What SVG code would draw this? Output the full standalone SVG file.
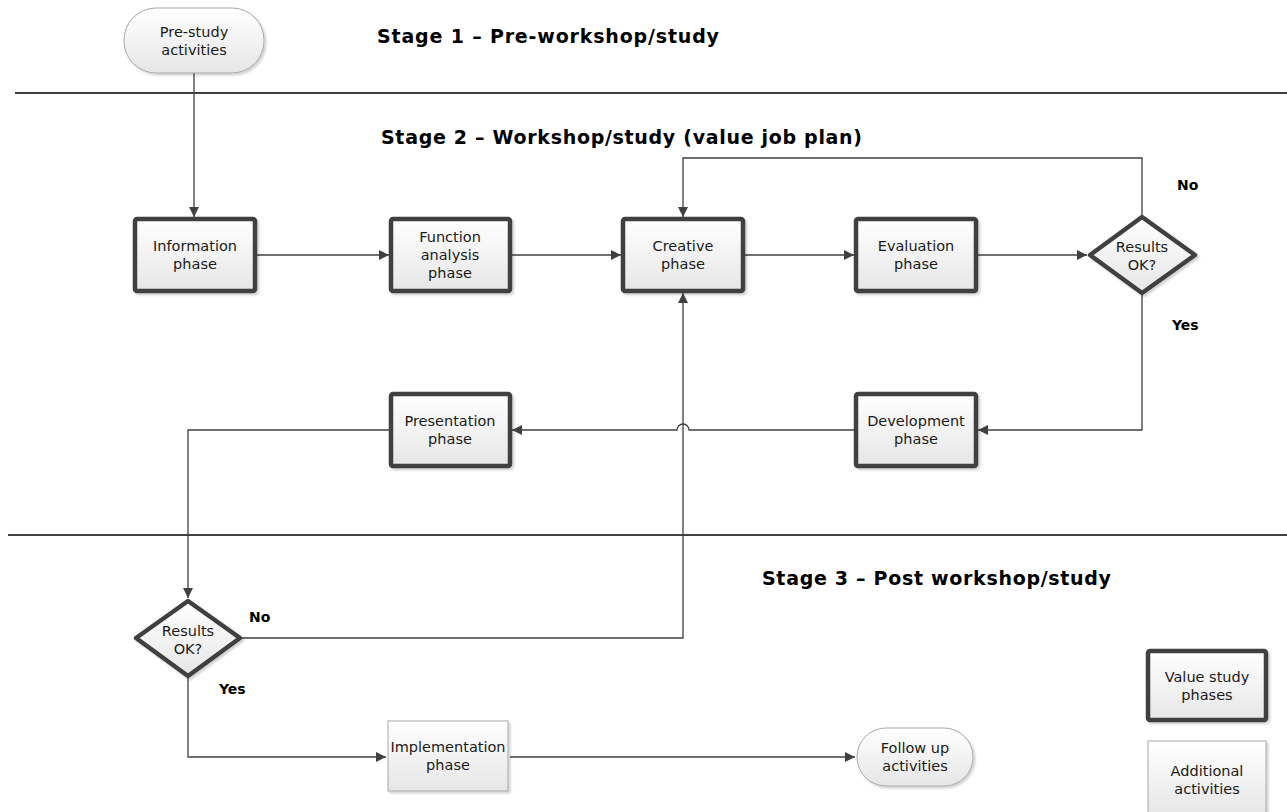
<svg xmlns="http://www.w3.org/2000/svg" width="1287" height="812" viewBox="0 0 1287 812">
  <defs>
    <linearGradient id="fill" x1="0" y1="0" x2="0" y2="1">
      <stop offset="0" stop-color="#ffffff"/>
      <stop offset="1" stop-color="#e6e6e6"/>
    </linearGradient>
    <filter id="shadow" x="-10%" y="-10%" width="130%" height="130%">
      <feDropShadow dx="2" dy="2" stdDeviation="1.2" flood-color="#000" flood-opacity="0.18"/>
    </filter>
    <marker id="arrow" viewBox="0 0 10 10" refX="10" refY="5" markerWidth="10" markerHeight="10" markerUnits="userSpaceOnUse" orient="auto">
      <path d="M0,0 L10,5 L0,10 Z" fill="#404040"/>
    </marker>
  </defs>
  <style>
    .phase { fill: url(#fill); stroke: #404040; stroke-width: 4.5; filter: url(#shadow); }
    .extra { fill: url(#fill); stroke: #a8a8a8; stroke-width: 1; filter: url(#shadow); }
    .term { fill: url(#fill); stroke: #a8a8a8; stroke-width: 1; filter: url(#shadow); }
    .label { font-family: "DejaVu Sans", Verdana, sans-serif; font-size: 14.5px; fill: #1a1a1a; text-anchor: middle; }
    .title { font-family: "DejaVu Sans", Verdana, sans-serif; font-size: 19px; font-weight: bold; fill: #000; }
    .tag { font-family: "DejaVu Sans", Verdana, sans-serif; font-size: 14px; font-weight: bold; fill: #000; }
    .sep { stroke: #404040; stroke-width: 2; }
    .conn { fill: none; stroke: #404040; stroke-width: 1.3; }
  </style>

  <rect width="1287" height="812" fill="#ffffff"/>

  <!-- stage separators and titles -->
  <g id="stages">
    <line class="sep" x1="15" y1="93" x2="1287" y2="93"/>
    <line class="sep" x1="8" y1="535" x2="1287" y2="535"/>
    <text class="title" x="377" y="43" textLength="342" lengthAdjust="spacing">Stage 1 – Pre-workshop/study</text>
    <text class="title" x="381" y="144" textLength="481" lengthAdjust="spacing">Stage 2 – Workshop/study (value job plan)</text>
    <text class="title" x="762" y="585" textLength="349" lengthAdjust="spacing">Stage 3 – Post workshop/study</text>
  </g>

  <!-- connectors -->
  <g id="connectors">
    <path class="conn" d="M194,73 V217" marker-end="url(#arrow)"/>
    <path class="conn" d="M257,255 H389" marker-end="url(#arrow)"/>
    <path class="conn" d="M512,255 H621" marker-end="url(#arrow)"/>
    <path class="conn" d="M745,255 H854" marker-end="url(#arrow)"/>
    <path class="conn" d="M978,255 H1087" marker-end="url(#arrow)"/>
    <path class="conn" d="M1142,216 V158 H683 V217" marker-end="url(#arrow)"/>
    <path class="conn" d="M1142,294 V430 H978" marker-end="url(#arrow)"/>
    <path class="conn" d="M854,430 H689 A6,6 0 0 0 677,430 H512" marker-end="url(#arrow)"/>
    <path class="conn" d="M389,430 H188 V598" marker-end="url(#arrow)"/>
    <path class="conn" d="M241,638 H683 V293" marker-end="url(#arrow)"/>
    <path class="conn" d="M188,677 V757 H386" marker-end="url(#arrow)"/>
    <path class="conn" d="M510,757 H855" marker-end="url(#arrow)"/>
  </g>

  <g id="pre-study">
    <rect class="term" x="124" y="8" width="140" height="65" rx="32" ry="32"/>
    <text class="label" x="194" y="37">Pre-study</text>
    <text class="label" x="194" y="55">activities</text>
  </g>

  <g id="information">
    <rect class="phase" x="135" y="219" width="120" height="72" rx="2"/>
    <text class="label" x="195" y="251">Information</text>
    <text class="label" x="195" y="269">phase</text>
  </g>

  <g id="function-analysis">
    <rect class="phase" x="391" y="219" width="119" height="72" rx="2"/>
    <text class="label" x="450" y="242">Function</text>
    <text class="label" x="450" y="260">analysis</text>
    <text class="label" x="450" y="278">phase</text>
  </g>

  <g id="creative">
    <rect class="phase" x="623" y="219" width="120" height="72" rx="2"/>
    <text class="label" x="683" y="251">Creative</text>
    <text class="label" x="683" y="269">phase</text>
  </g>

  <g id="evaluation">
    <rect class="phase" x="856" y="219" width="120" height="72" rx="2"/>
    <text class="label" x="916" y="251">Evaluation</text>
    <text class="label" x="916" y="269">phase</text>
  </g>

  <g id="decision-1">
    <polygon class="phase" points="1142,217 1195,255 1142,293 1090,255" stroke-linejoin="round"/>
    <text class="label" x="1142" y="252">Results</text>
    <text class="label" x="1142" y="270">OK?</text>
    <text class="tag" x="1177" y="190">No</text>
    <text class="tag" x="1172" y="330">Yes</text>
  </g>

  <g id="development">
    <rect class="phase" x="856" y="394" width="120" height="72" rx="2"/>
    <text class="label" x="916" y="426">Development</text>
    <text class="label" x="916" y="444">phase</text>
  </g>

  <g id="presentation">
    <rect class="phase" x="391" y="394" width="119" height="72" rx="2"/>
    <text class="label" x="450" y="426">Presentation</text>
    <text class="label" x="450" y="444">phase</text>
  </g>

  <g id="decision-2">
    <polygon class="phase" points="188,601 240,638 188,676 136,638" stroke-linejoin="round"/>
    <text class="label" x="188" y="636">Results</text>
    <text class="label" x="188" y="654">OK?</text>
    <text class="tag" x="249" y="622">No</text>
    <text class="tag" x="219" y="694">Yes</text>
  </g>

  <g id="implementation">
    <rect class="extra" x="388" y="721" width="120" height="70"/>
    <text class="label" x="448" y="752">Implementation</text>
    <text class="label" x="448" y="770">phase</text>
  </g>

  <g id="follow-up">
    <rect class="term" x="857" y="728" width="116" height="58" rx="29" ry="29"/>
    <text class="label" x="915" y="753">Follow up</text>
    <text class="label" x="915" y="771">activities</text>
  </g>

  <g id="legend-phases">
    <rect class="phase" x="1148" y="651" width="118" height="69" rx="2"/>
    <text class="label" x="1207" y="682">Value study</text>
    <text class="label" x="1207" y="700">phases</text>
  </g>

  <g id="legend-additional">
    <rect class="extra" x="1148" y="741" width="118" height="75"/>
    <text class="label" x="1207" y="776">Additional</text>
    <text class="label" x="1207" y="794">activities</text>
  </g>
</svg>
